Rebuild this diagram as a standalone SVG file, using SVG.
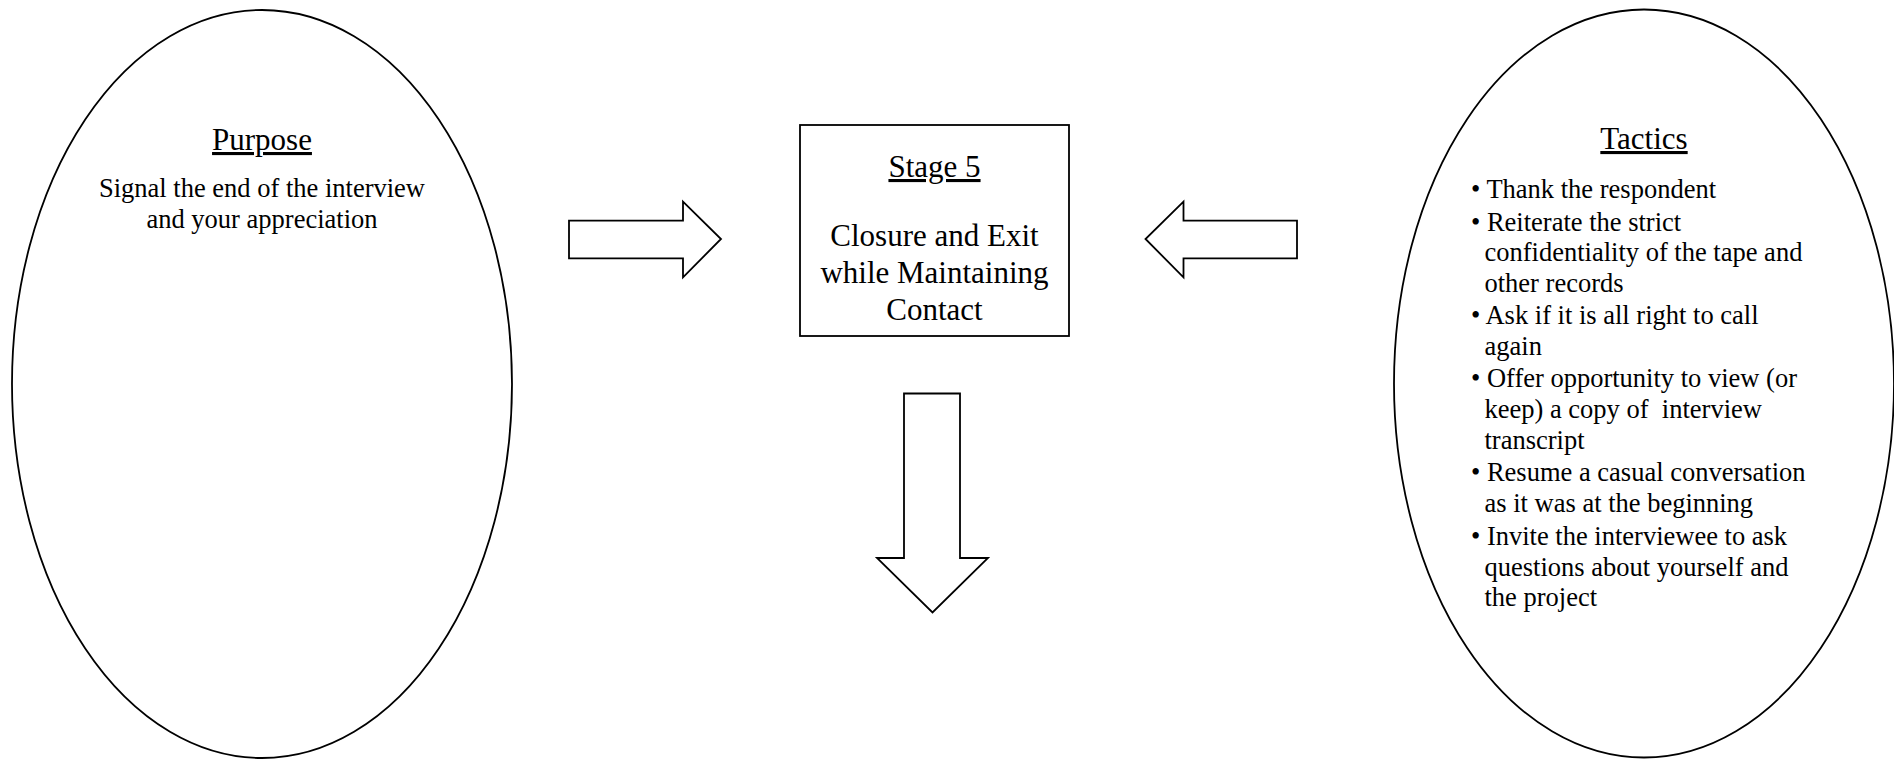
<svg xmlns="http://www.w3.org/2000/svg" width="1894" height="759" viewBox="0 0 1894 759">
<style>
.shape{fill:#fff;stroke:#000;stroke-width:1.8}
.t{font-family:"Liberation Serif","Times New Roman",serif;fill:#000}
.head{font-size:31px;text-decoration:underline}
.body{font-size:26.5px}
.big{font-size:31px}
.c{text-anchor:middle}
.pre text{white-space:pre}
</style>
<rect width="1894" height="759" fill="#fff"/>
<g id="purpose">
<ellipse class="shape" cx="262" cy="384" rx="250" ry="374"/>
<text class="t head c" x="262" y="150">Purpose</text>
<text class="t body c" x="262" y="197">Signal the end of the interview</text>
<text class="t body c" x="262" y="228">and your appreciation</text>
</g>
<g id="stage5">
<rect class="shape" x="800" y="125" width="269" height="211" stroke-width="2"/>
<text class="t head c" x="934.5" y="177">Stage 5</text>
<text class="t big c" x="934.5" y="246">Closure and Exit</text>
<text class="t big c" x="934.5" y="283">while Maintaining</text>
<text class="t big c" x="934.5" y="320">Contact</text>
</g>
<g id="tactics">
<ellipse class="shape" cx="1644" cy="383.5" rx="250" ry="374"/>
<text class="t head c" x="1644" y="149">Tactics</text>
<g class="t body pre" xml:space="preserve">
<text x="1471" y="198.3">• Thank the respondent</text>
<text x="1471" y="230.7">• Reiterate the strict</text>
<text x="1484.5" y="261">confidentiality of the tape and</text>
<text x="1484.5" y="292">other records</text>
<text x="1471" y="323.5">• Ask if it is all right to call</text>
<text x="1484.5" y="354.5">again</text>
<text x="1471" y="386.5">• Offer opportunity to view (or</text>
<text x="1484.5" y="418" xml:space="preserve">keep) a copy of  interview</text>
<text x="1484.5" y="449">transcript</text>
<text x="1471" y="480.7">• Resume a casual conversation</text>
<text x="1484.5" y="512">as it was at the beginning</text>
<text x="1471" y="544.5">• Invite the interviewee to ask</text>
<text x="1484.5" y="575.5">questions about yourself and</text>
<text x="1484.5" y="606">the project</text>
</g>
</g>
<g id="connectors">
<polygon class="shape" points="569,220.7 683,220.7 683,201.7 721,239 683,277.3 683,258.3 569,258.3"/>
<polygon class="shape" points="1297,220.7 1183.5,220.7 1183.5,201.7 1145.5,239 1183.5,277.3 1183.5,258.3 1297,258.3"/>
<polygon class="shape" points="904,393.5 960,393.5 960,558 988,558 932.5,612.5 877,558 904,558"/>
</g>
</svg>
